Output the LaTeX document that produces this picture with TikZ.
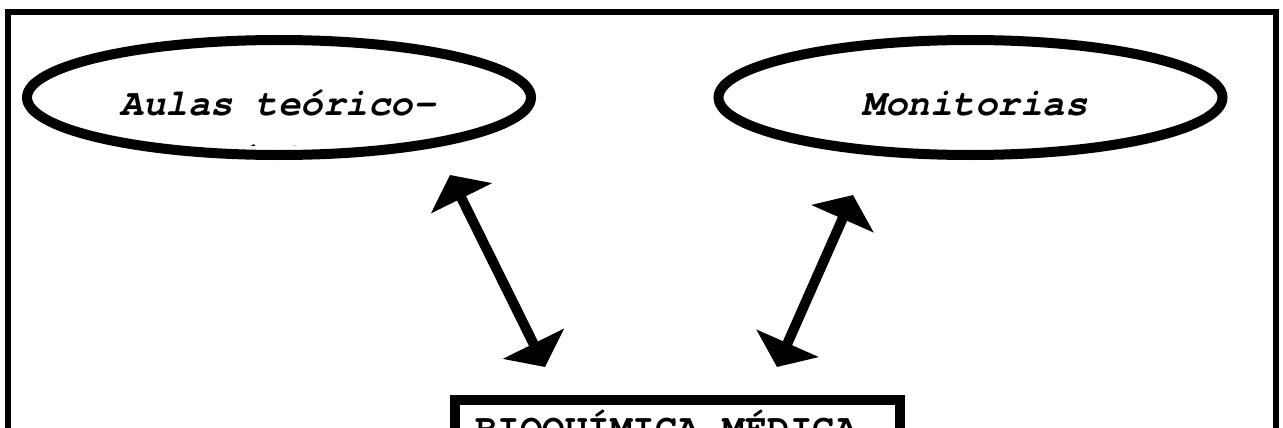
\documentclass[tikz,border=0pt]{standalone}
\usepackage{fontspec}
\setmonofont{texgyrecursor}[Extension=.otf, UprightFont=*-regular, BoldFont=*-bold, ItalicFont=*-italic, BoldItalicFont=*-bolditalic]
\usetikzlibrary{shapes.geometric,arrows.meta}
\tikzset{
  bubble/.style={ellipse, draw=black, line width=10pt, minimum width=504pt, minimum height=115pt, inner sep=0pt},
  lbl/.style={font=\fontsize{37.5pt}{45pt}\selectfont\ttfamily\bfseries\itshape, inner sep=0pt, anchor=base},
  boxlbl/.style={font=\fontsize{37.5pt}{45pt}\selectfont\ttfamily\bfseries, inner sep=0pt, anchor=base west},
  link/.style={line width=10pt, {Triangle[length=26pt,width=67pt]}-{Triangle[length=26pt,width=67pt]}},
  mainbox/.style={draw=black, line width=10pt, rectangle, inner sep=0pt, anchor=north west}
}
\begin{document}
\begin{tikzpicture}[x=1pt,y=-1pt]
\useasboundingbox (0,0) rectangle (1283,428);
\clip (0,0) rectangle (1283,428);
\fill[white] (0,0) rectangle (1283,428);
% outer frame
\draw[line width=6pt] (8,460) -- (8,12.5) -- (1276,12.5) -- (1276,460);
% ellipses
\node[bubble] (aulas) at (279,97.5) {};
\node[bubble] (monit) at (970.5,97.5) {};
\node[lbl] (aulastxt) at (278,115) {Aulas teórico-};
\begin{scope}
  \clip (0,0) rectangle (1283,145);
  \node[lbl] (pratica) at (278,170) {práticas};
\end{scope}
\node[lbl] (monittxt) at (975,115) {Monitorias};
% bottom box
\node[mainbox, minimum width=445pt, minimum height=80pt] (bio) at (449.5,395) {};
\node[boxlbl] (biotxt) at (475,440) {BIOQUÍMICA MÉDICA};
% arrows
\coordinate (a1) at (450,175);
\coordinate (a2) at (545,367);
\coordinate (b1) at (853,195);
\coordinate (b2) at (777,367);
\draw[link] (a1) -- (a2);
\draw[link] (b1) -- (b2);
\end{tikzpicture}
\end{document}
